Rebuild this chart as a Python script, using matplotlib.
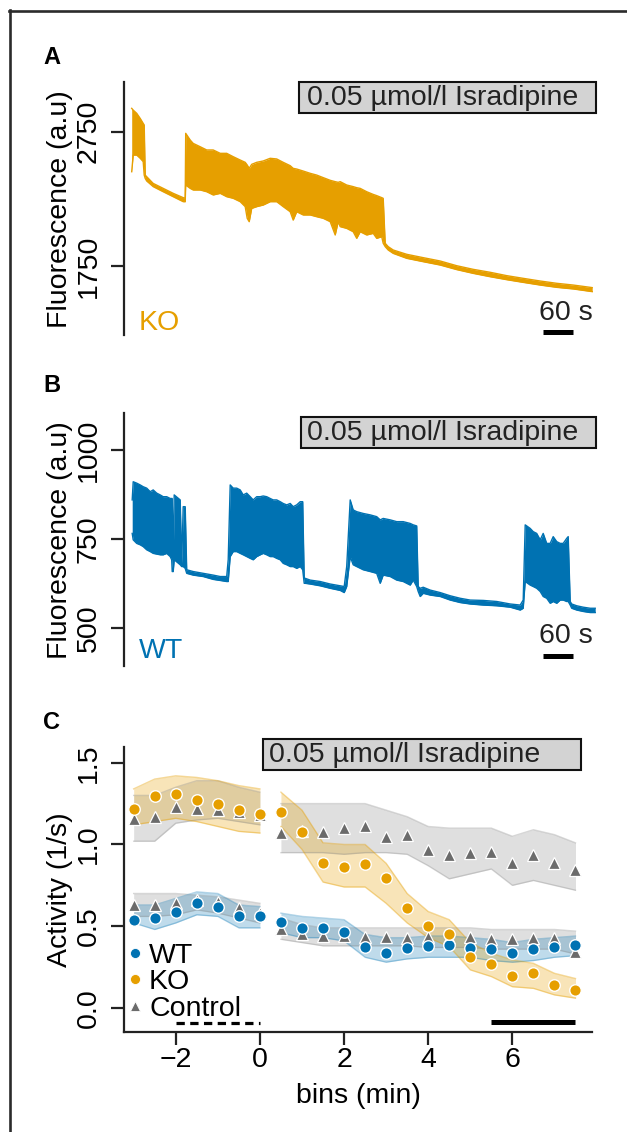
import matplotlib
matplotlib.use('Agg')
import matplotlib.pyplot as plt
from matplotlib.patches import Rectangle
from matplotlib.lines import Line2D
from matplotlib.transforms import blended_transform_factory

plt.rcParams['font.family'] = ['Liberation Sans', 'DejaVu Sans']

# ---------------- data: panel A (KO trace, envelope) ----------------
tA = [0, 3, 10, 17, 23, 25, 27, 30, 43, 63, 83, 103, 107, 108, 117, 123, 137, 150, 163, 177,
      190, 203, 217, 227, 231, 235, 240, 250, 263, 277, 290, 303, 317, 323, 330, 343, 357, 370,
      383, 397, 407, 413, 417, 430, 443, 450, 457, 470, 483, 490, 500, 503, 507, 513, 523, 550,
      583, 617, 650, 683, 717, 750, 783, 817, 850, 883, 921]
A_upper = [2924, 2911, 2887, 2849, 2812, 2800, 2427, 2415, 2365, 2328, 2291, 2259, 2254, 2738,
           2688, 2663, 2638, 2614, 2614, 2589, 2589, 2564, 2539, 2522, 2502, 2477, 2507, 2522,
           2532, 2552, 2547, 2522, 2497, 2477, 2472, 2457, 2440, 2427, 2408, 2388, 2378, 2373,
           2378, 2353, 2341, 2333, 2328, 2303, 2283, 2274, 2259, 2254, 1919, 1894, 1869, 1837,
           1812, 1787, 1752, 1725, 1703, 1678, 1658, 1638, 1621, 1608, 1589]
A_lower = [2452, 2576, 2576, 2552, 2527, 2427, 2402, 2383, 2341, 2303, 2266, 2229, 2229, 2353,
           2328, 2316, 2316, 2303, 2279, 2291, 2266, 2254, 2229, 2192, 2105, 2080, 2179, 2192,
           2204, 2229, 2229, 2192, 2154, 2092, 2154, 2130, 2130, 2117, 2105, 2080, 1981, 2080,
           2043, 2030, 2005, 1956, 2005, 1981, 1993, 1956, 1968, 1919, 1894, 1869, 1844, 1807,
           1782, 1757, 1723, 1695, 1670, 1648, 1628, 1608, 1591, 1579, 1559]
A_ticks = [1750, 2750]

# ---------------- data: panel B (WT trace) ----------------
tB = [1, 3, 10, 17, 23, 30, 37, 43, 50, 57, 63, 70, 77, 80, 81, 83, 85, 97, 100, 103, 107, 110,
      123, 143, 163, 177, 190, 193, 197, 203, 210, 217, 223, 230, 237, 243, 250, 257, 263, 270,
      277, 283, 290, 297, 303, 310, 317, 323, 330, 337, 342, 345, 347, 357, 377, 397, 417, 425,
      430, 437, 443, 450, 463, 477, 490, 497, 503, 517, 530, 543, 557, 563, 570, 573, 577, 583,
      597, 617, 637, 657, 677, 703, 730, 757, 777, 783, 787, 797, 803, 810, 817, 823, 830, 837,
      843, 850, 857, 863, 870, 873, 877, 880, 890, 903, 917, 927]
B_upper = [860, 911, 907, 902, 897, 893, 883, 888, 879, 874, 869, 869, 864, 864, 864, 692, 874,
           860, 682, 841, 841, 664, 659, 654, 649, 645, 645, 692, 902, 893, 893, 888, 874, 879,
           869, 860, 869, 869, 871, 869, 864, 860, 860, 855, 850, 846, 850, 841, 846, 855, 855,
           640, 640, 635, 631, 624, 619, 617, 673, 860, 832, 827, 822, 818, 813, 804, 808, 804,
           799, 799, 794, 790, 787, 617, 612, 615, 607, 600, 591, 584, 579, 578, 575, 568, 565,
           579, 790, 780, 771, 766, 748, 766, 738, 738, 757, 743, 738, 738, 752, 757, 575, 568,
           563, 559, 556, 556]
B_lower = [766, 748, 738, 734, 729, 720, 715, 710, 708, 706, 706, 710, 701, 692, 659, 659, 692,
           678, 673, 673, 668, 654, 649, 645, 637, 634, 631, 631, 701, 715, 715, 710, 706, 701,
           696, 692, 701, 706, 710, 706, 701, 701, 696, 692, 682, 678, 673, 673, 668, 673, 664,
           626, 626, 624, 619, 612, 606, 600, 617, 701, 678, 673, 664, 659, 654, 626, 649, 645,
           635, 631, 621, 635, 617, 603, 589, 598, 593, 589, 579, 572, 568, 565, 563, 559, 551,
           556, 631, 621, 617, 612, 603, 589, 584, 570, 575, 570, 579, 579, 575, 575, 565, 556,
           551, 547, 544, 544]
B_ticks = [500, 750, 1000]

# ---------------- data: panel C (binned activity) ----------------
bins_pre = [-3, -2.5, -2, -1.5, -1, -0.5, 0]
bins_post = [0.5, 1, 1.5, 2, 2.5, 3, 3.5, 4, 4.5, 5, 5.5, 6, 6.5, 7, 7.5]

WT_pre = [0.54, 0.55, 0.59, 0.645, 0.62, 0.56, 0.56]
WT_pre_lo = [0.52, 0.48, 0.52, 0.57, 0.56, 0.49, 0.49]
WT_pre_hi = [0.63, 0.63, 0.67, 0.71, 0.70, 0.63, 0.62]
WT_post = [0.524, 0.488, 0.492, 0.467, 0.371, 0.338, 0.369, 0.379, 0.385, 0.369, 0.359, 0.338,
           0.359, 0.371, 0.384]
WT_post_lo = [0.46, 0.43, 0.43, 0.41, 0.31, 0.28, 0.30, 0.31, 0.31, 0.31, 0.29, 0.28, 0.29,
              0.31, 0.32]
WT_post_hi = [0.58, 0.56, 0.55, 0.54, 0.45, 0.43, 0.43, 0.44, 0.44, 0.43, 0.42, 0.40, 0.42,
              0.43, 0.44]

KO_pre = [1.218, 1.297, 1.308, 1.273, 1.247, 1.208, 1.185]
KO_pre_lo = [1.12, 1.14, 1.16, 1.14, 1.11, 1.08, 1.07]
KO_pre_hi = [1.34, 1.40, 1.42, 1.41, 1.39, 1.36, 1.34]
KO_post = [1.20, 1.079, 0.885, 0.865, 0.879, 0.794, 0.61, 0.502, 0.453, 0.314, 0.267, 0.196,
           0.212, 0.141, 0.11]
KO_post_lo = [1.11, 0.97, 0.77, 0.74, 0.74, 0.64, 0.52, 0.43, 0.375, 0.233, 0.192, 0.13, 0.12,
              0.08, 0.06]
KO_post_hi = [1.32, 1.21, 1.01, 1.00, 1.00, 0.885, 0.70, 0.59, 0.54, 0.40, 0.335, 0.294, 0.273,
              0.212, 0.18]

CtlKO_pre = [1.155, 1.165, 1.232, 1.218, 1.21, 1.20, 1.18]
CtlKO_pre_lo = [1.02, 1.02, 1.13, 1.15, 1.16, 1.14, 1.12]
CtlKO_pre_hi = [1.30, 1.30, 1.35, 1.39, 1.39, 1.35, 1.32]
CtlKO_post = [1.073, 1.08, 1.079, 1.10, 1.11, 1.048, 1.059, 0.967, 0.936, 0.95, 0.957, 0.885,
              0.936, 0.885, 0.845]
CtlKO_post_lo = [0.95, 0.95, 0.95, 0.94, 0.95, 0.95, 0.94, 0.87, 0.79, 0.82, 0.85, 0.75, 0.78,
                 0.75, 0.72]
CtlKO_post_hi = [1.25, 1.25, 1.25, 1.25, 1.25, 1.21, 1.17, 1.11, 1.10, 1.10, 1.10, 1.05, 1.09,
                 1.06, 1.01]

CtlWT_pre = [0.63, 0.63, 0.64, 0.66, 0.65, 0.61, 0.58]
CtlWT_pre_lo = [0.56, 0.56, 0.57, 0.60, 0.58, 0.55, 0.52]
CtlWT_pre_hi = [0.70, 0.70, 0.70, 0.69, 0.68, 0.66, 0.64]
CtlWT_post = [0.48, 0.45, 0.44, 0.44, 0.436, 0.436, 0.43, 0.436, 0.43, 0.436, 0.42, 0.42, 0.426,
              0.426, 0.345]
CtlWT_post_lo = [0.42, 0.40, 0.38, 0.38, 0.38, 0.38, 0.38, 0.37, 0.37, 0.37, 0.36, 0.36, 0.36,
                 0.36, 0.33]
CtlWT_post_hi = [0.55, 0.51, 0.49, 0.49, 0.49, 0.49, 0.49, 0.49, 0.49, 0.49, 0.48, 0.48, 0.48,
                 0.48, 0.47]

C_yticks = [0.0, 0.5, 1.0, 1.5]
C_xticks = [-2, 0, 2, 4, 6]
legend_labels = ['WT', 'KO', 'Control']
box_label = '0.05 µmol/l Isradipine'

# ---------------- layout ----------------
W, H = 627, 1132
fig = plt.figure(figsize=(W / 100, H / 100), dpi=100)
ORANGE = '#E69F00'
BLUE = '#0072B2'
TRI = '#6B6B6B'
FS = 20.5
LW = 1.6


def fx(px):
    return px / W


def fy(py):
    return 1 - py / H


def add_ax(l, t, r, b):
    return fig.add_axes([fx(l), fy(b), fx(r) - fx(l), fy(t) - fy(b)])


def style_y(ax):
    for s in ['top', 'right', 'bottom']:
        ax.spines[s].set_visible(False)
    ax.spines['left'].set_linewidth(LW)
    ax.spines['left'].set_color('#222222')
    ax.tick_params(axis='y', length=9.4, width=LW, color='#222222', labelsize=FS,
                   pad=6.5, labelrotation=90, direction='out')
    for lb in ax.get_yticklabels():
        lb.set_va('center')
    ax.patch.set_alpha(0)


def box(l, t, r, b, tx):
    fig.add_artist(Rectangle((fx(l), fy(b)), fx(r) - fx(l), fy(t) - fy(b),
                             transform=fig.transFigure, facecolor='#d3d3d3',
                             edgecolor='#111111', lw=1.5, zorder=5))
    fig.text(fx(tx), fy((t + b) / 2 + 0.5), box_label, ha='left', va='center',
             fontsize=FS, color='#222222', zorder=6)


# frame
fig.add_artist(Line2D([fx(9.5), fx(9.5)], [fy(10), 0], transform=fig.transFigure,
                      color='#2b2b2b', lw=1.9))
fig.add_artist(Line2D([fx(8.6), 1], [fy(11), fy(11)], transform=fig.transFigure,
                      color='#2b2b2b', lw=1.9))

# panel letters
for letter, base in [('A', 63.5), ('B', 391.5), ('C', 729)]:
    fig.text(fx(43), fy(base), letter, fontsize=17, fontweight='bold', va='baseline',
             ha='left')


def trace_panel(top, bottom, t, up, lo, col, ylim, ticks, name, bar_y, txt_y, name_y):
    ax = add_ax(124, top, 600, bottom)
    ax.fill_between(t, lo, up, color=col, lw=0)
    ax.plot(t, up, color=col, lw=1.0)
    ax.plot(t, lo, color=col, lw=1.0)
    ax.set_xlim(-15.4, 936.6)
    ax.set_ylim(*ylim)
    ax.set_xticks([])
    ax.set_yticks(ticks)
    ax.set_yticklabels([str(v) for v in ticks])
    style_y(ax)
    ax.set_ylabel('Fluorescence (a.u)', fontsize=FS)
    ax.yaxis.set_label_coords(-0.107, 0.5)
    tr = blended_transform_factory(ax.transData, ax.transAxes)
    ax.plot([822, 882], [bar_y, bar_y], transform=tr, color='black', lw=3.6,
            solid_capstyle='butt', clip_on=False)
    ax.text(868, txt_y, '60 s', transform=tr, ha='center', va='baseline', fontsize=FS,
            color='#222222')
    ax.text(0.031, name_y, name, transform=ax.transAxes, ha='left', va='baseline',
            fontsize=FS, color=col)
    return ax


axA = trace_panel(82.3, 335, tA, A_upper, A_lower, ORANGE, (1236, 3118), A_ticks, 'KO',
                  0.01, 0.059, 0.02)
axB = trace_panel(413.3, 666, tB, B_upper, B_lower, BLUE, (394, 1103), B_ticks, 'WT',
                  0.04, 0.09, 0.03)
box(299.3, 81.7, 596, 113.3, 306.7)
box(301, 416.7, 596, 448.3, 307.3)

# ---------------- panel C ----------------
axC = add_ax(124, 746.7, 592.3, 1032)
axC.set_xlim(-3.23, 7.9)
axC.set_ylim(-0.147, 1.598)


def band(x, lo, hi, fc, fa, ec, ea):
    axC.fill_between(x, lo, hi, color=fc, alpha=fa, lw=0, zorder=1)
    axC.plot(x, lo, color=ec, alpha=ea, lw=1.0, zorder=1.5)
    axC.plot(x, hi, color=ec, alpha=ea, lw=1.0, zorder=1.5)


for x, lo, hi in [(bins_pre, CtlKO_pre_lo, CtlKO_pre_hi), (bins_post, CtlKO_post_lo, CtlKO_post_hi),
                  (bins_pre, CtlWT_pre_lo, CtlWT_pre_hi), (bins_post, CtlWT_post_lo, CtlWT_post_hi)]:
    band(x, lo, hi, '#8c8c8c', 0.28, '#8c8c8c', 0.35)
for x, lo, hi in [(bins_pre, WT_pre_lo, WT_pre_hi), (bins_post, WT_post_lo, WT_post_hi)]:
    band(x, lo, hi, BLUE, 0.25, BLUE, 0.3)
for x, lo, hi in [(bins_pre, KO_pre_lo, KO_pre_hi), (bins_post, KO_post_lo, KO_post_hi)]:
    band(x, lo, hi, ORANGE, 0.28, ORANGE, 0.4)

for x, y in [(bins_pre, CtlKO_pre), (bins_post, CtlKO_post), (bins_pre, CtlWT_pre),
             (bins_post, CtlWT_post)]:
    axC.plot(x, y, ls='none', marker='^', ms=8.5, mfc=TRI, mec='white', mew=0.9, zorder=3)
for x, y in [(bins_pre, WT_pre), (bins_post, WT_post)]:
    axC.plot(x, y, ls='none', marker='o', ms=8.3, mfc=BLUE, mec='white', mew=1.0, zorder=4)
for x, y in [(bins_pre, KO_pre), (bins_post, KO_post)]:
    axC.plot(x, y, ls='none', marker='o', ms=8.3, mfc=ORANGE, mec='white', mew=1.0, zorder=4)

# treatment reference bars
axC.plot([-2, 0], [-0.094, -0.094], color='black', lw=2.3, dashes=(2.6, 1.7),
         solid_capstyle='butt', dash_capstyle='butt', zorder=5)
axC.plot([5.5, 7.5], [-0.084, -0.084], color='black', lw=3.6, solid_capstyle='butt', zorder=5)

for s in ['top', 'right']:
    axC.spines[s].set_visible(False)
for s in ['left', 'bottom']:
    axC.spines[s].set_linewidth(LW)
    axC.spines[s].set_color('#222222')
axC.set_yticks(C_yticks)
axC.set_yticklabels(['%.1f' % v for v in C_yticks])
axC.set_xticks(C_xticks)
axC.set_xticklabels(['\u2212%d' % -v if v < 0 else '%d' % v for v in C_xticks])
axC.tick_params(axis='y', length=9.4, width=LW, color='#222222', labelsize=FS, pad=6.5,
                labelrotation=90)
for lb in axC.get_yticklabels():
    lb.set_va('center')
axC.tick_params(axis='x', length=9.4, width=LW, color='#222222', labelsize=FS, pad=1.5)
axC.set_ylabel('Activity (1/s)', fontsize=FS)
axC.yaxis.set_label_coords(-0.109, 0.5)
axC.set_xlabel('bins (min)', fontsize=FS, labelpad=7)
axC.patch.set_alpha(0)

handles = [Line2D([], [], ls='none', marker='o', ms=7.2, mfc=BLUE, mec='white', mew=0.6),
           Line2D([], [], ls='none', marker='o', ms=7.2, mfc=ORANGE, mec='white', mew=0.6),
           Line2D([], [], ls='none', marker='^', ms=7.2, mfc=TRI, mec='white', mew=0.6)]
axC.legend(handles, legend_labels, loc='lower left', bbox_to_anchor=(0.005, 0.035),
           frameon=False, fontsize=FS, handlelength=0.6, handletextpad=0.2,
           labelspacing=0.02, borderpad=0, borderaxespad=0)

box(263.3, 739.3, 581, 770, 269.3)

fig.savefig('out.png', dpi=100)
